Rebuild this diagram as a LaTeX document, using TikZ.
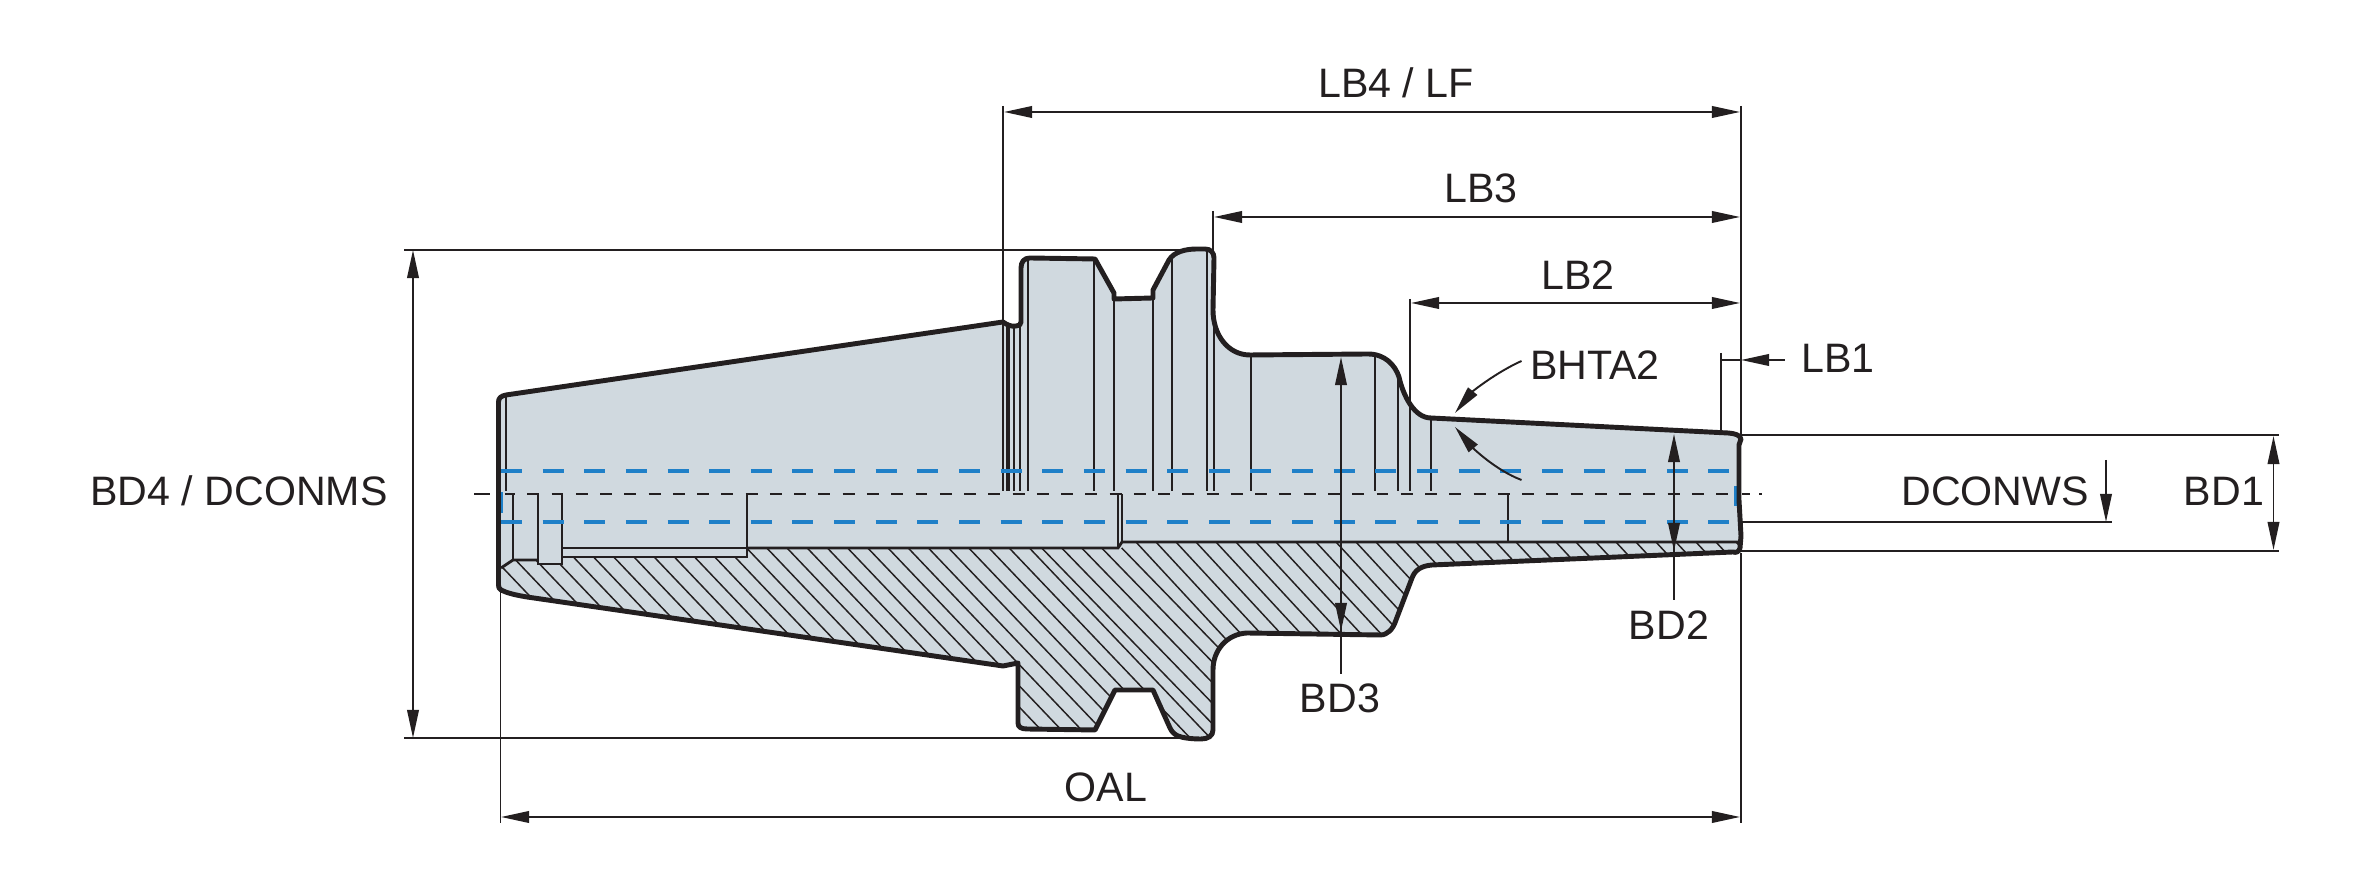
\documentclass[tikz,border=0pt]{standalone}
\usepackage{fontspec}
\setmainfont{Liberation Sans}
\usetikzlibrary{arrows.meta, positioning}
\definecolor{ink}{HTML}{231F20}
\definecolor{steel}{HTML}{D0D9DF}
\definecolor{bore}{HTML}{1F80C8}
\tikzset{
  outline/.style={line width=1.4pt, draw=ink, line join=round},
  edgeline/.style={line width=.55pt, draw=ink},
  cutline/.style={line width=.8pt, draw=ink, line join=miter},
  hatchline/.style={line width=.42pt, draw=ink},
  dimline/.style={line width=.55pt, draw=ink},
  axisline/.style={line width=.6pt, draw=ink, dash pattern=on 3.4pt off 3.5pt, dash phase=.57pt},
  boreline/.style={line width=.9pt, draw=bore, dash pattern=on 5.97pt off 5.87pt},
  dimlabel/.style={text=ink, inner sep=0pt, font=\fontsize{11.7}{14}\selectfont},
}
\def\bodypath{(498.5,402) .. controls (498.5,398) and (501,396) .. (506,395) -- (1003,322)
  .. controls (1007,325) and (1012,327) .. (1016,326) .. controls (1019,326) and (1021,325) .. (1021,322)
  -- (1021,268) .. controls (1021,262) and (1024,258) .. (1030,258) -- (1095,259) -- (1114,293) -- (1114,299)
  -- (1153,298) -- (1153,290) -- (1169,260) .. controls (1174,252) and (1185,249) .. (1197,249)
  -- (1205,249) .. controls (1211,249) and (1214,253) .. (1214,258) -- (1213,310)
  .. controls (1213,335) and (1228,355) .. (1250,355) -- (1368,354)
  .. controls (1385,354) and (1395,365) .. (1399,377) .. controls (1403,395) and (1414,418) .. (1431,418)
  -- (1728,433) .. controls (1735,433.5) and (1740,435) .. (1741,439) -- (1739,445) -- (1739,500) -- (1741,536)
  -- (1740,548) .. controls (1739,552) and (1736,553) .. (1733,552) -- (1432,565)
  .. controls (1421,566) and (1415,570) .. (1412,578) -- (1396,620) .. controls (1393,629) and (1388,635) .. (1380,635)
  -- (1247,633) .. controls (1227,634) and (1213,650) .. (1213,670) -- (1213,730)
  .. controls (1213,736) and (1208,739) .. (1201,739) .. controls (1192,739) and (1183,738) .. (1178,736)
  .. controls (1174,734) and (1172,732) .. (1170,728) -- (1153,690) -- (1115,690) -- (1095,730) -- (1027,729)
  .. controls (1021,729) and (1018,727) .. (1018,723) -- (1018,663) -- (1003,666) -- (527,597)
  .. controls (515,595) and (507,593) .. (501,590) .. controls (499,589) and (498.5,587) .. (498.5,585) -- cycle}
\begin{document}
\begin{tikzpicture}[x=0.01cm, y=-0.01cm, >={Stealth[length=8pt, width=3.3pt, inset=0pt]}]
\useasboundingbox (0,0) rectangle (2362,886);
\fill[steel] \bodypath;
% section hatching
\begin{scope}
\clip \bodypath;
\clip (495,570) -- (513,560) -- (538,560) -- (538,564) -- (562,564) -- (562,557) -- (747,557) -- (747,548)
  -- (1118,548) -- (1122,542) -- (1745,542) -- (1745,760) -- (495,760) -- cycle;
\foreach \k in {0,...,27}
  \draw[hatchline] ({484+20.2*\k},548) -- ++(230,241.5);
\foreach \k in {0,...,4}
  \draw[hatchline] ({1041.7+20*\k},548) -- ++(230,236.9);
\foreach \k in {0,...,31}
  \draw[hatchline] ({1135+20*\k},541) -- ++(230,248.4);
\end{scope}
% view lines down to the axis
\foreach \xs/\ys in {506/395, 1003/322, 1007/323, 1009/324, 1014/326, 1020/324, 1028/259, 1094/259, 1114/299,
    1153/298, 1172/257, 1207/250, 1214/258, 1251/355, 1375/355, 1398/375, 1431/419}
  \draw[edgeline] (\xs,\ys) -- (\xs,491);
% bore and section edge
\draw[edgeline] (513,494) -- (513,560);
\draw[cutline] (501,568) -- (513,560) -- (538,560);
\draw[cutline] (538,494) -- (538,564) -- (562,564) -- (562,494);
\draw[cutline] (562,548) -- (747,548);
\draw[cutline] (562,557) -- (747,557) -- (747,494);
\draw[cutline] (747,548) -- (1118,548) -- (1122,542) -- (1739,542);
\draw[edgeline] (1118,494) -- (1118,548);
\draw[edgeline] (1122,494) -- (1122,542);
\draw[edgeline] (1508,494) -- (1508,542);
% center line and bore
\draw[axisline] (505,494) -- (1738,494);
\draw[edgeline] (474,494) -- (490,494);
\draw[edgeline] (1742,494) -- (1750,494);
\draw[edgeline] (1759,494) -- (1762,494);
\draw[boreline] (501,471) -- (1731,471);
\draw[boreline] (501,522) -- (1731,522);
\draw[boreline] (501,492) -- (501,513);
\draw[boreline, dash pattern=] (1736,486) -- (1736,506);
\draw[outline] \bodypath;
% labels
\node[dimlabel] (lblf) at (1396,83) {LB4 / LF};
\node[dimlabel] (lbthree) at (1481,188) {LB3};
\node[dimlabel] (lbtwo) at (1578,275) {LB2};
\node[dimlabel] (bhta) at (1595,365) {BHTA2};
\node[dimlabel] (lbone) at (1838,358) {LB1};
\node[dimlabel] (dconms) at (239,491) {BD4 / DCONMS};
\node[dimlabel] (dconws) at (1995,491) {DCONWS};
\node[dimlabel] (bdone) at (2224,491) {BD1};
\node[dimlabel] (bdtwo) at (1669,625) {BD2};
\node[dimlabel] (bdthree) at (1340,698) {BD3};
\node[dimlabel] (oal) at (1106,787) {OAL};
% LB dimensions
\draw[dimline] (1003,106) -- (1003,322);
\draw[dimline] (1741,106) -- (1741,437);
\draw[dimline] (1741,553) -- (1741,823);
\draw[dimline] (1213,211) -- (1213,258);
\draw[dimline] (1410,299) -- (1410,491);
\draw[dimline] (1721,353) -- (1721,432);
\draw[dimline, <->] (1004,112) -- (1740,112);
\draw[dimline, <->] (1214,217) -- (1740,217);
\draw[dimline, <->] (1411,303) -- (1740,303);
\draw[dimline] (1721,360) -- (1741,360);
\draw[dimline, ->] (lbone.west) ++(-16,2) coordinate (lbone tail) -- (1741,360);
% BD4 and OAL
\draw[dimline] (404,250) -- (1184,250);
\draw[dimline] (404,738) -- (1180,738);
\draw[dimline, <->] (413,250) -- (413,738);
\draw[dimline] (500.5,590) -- (500.5,823);
\draw[dimline, <->] (501,817) -- (1740,817);
% BD1 and DCONWS
\draw[dimline] (1741,435) -- (2279,435);
\draw[dimline] (1741,551) -- (2279,551);
\draw[dimline, <->] (2273.5,436) -- (2273.5,550);
\draw[dimline] (1741,522) -- (2112,522);
\draw[dimline, ->] (2106,460) -- (2106,522);
% BD2 and BD3
\draw[dimline, ->] (bdtwo.north -| 1674,0) ++(0,-10) coordinate (bdtwo tail) -- (1674,434);
\draw[dimline, ->] (1674,520) -- (1674,551);
\draw[dimline, ->] (bdthree.north) ++(1,-9) coordinate (bdthree tail) -- (1341,357);
\draw[dimline, ->] (1341,600) -- (1341,631);
% BHTA2
\draw[dimline, ->] (bhta.west) ++(-8,-4) coordinate (bhta up) .. controls (1495,373) and (1472,392) .. (1455,413);
\draw[dimline, ->] (bhta.west) ++(-8,115) coordinate (bhta low) .. controls (1495,470) and (1472,447) .. (1455,427);
\end{tikzpicture}
\end{document}
